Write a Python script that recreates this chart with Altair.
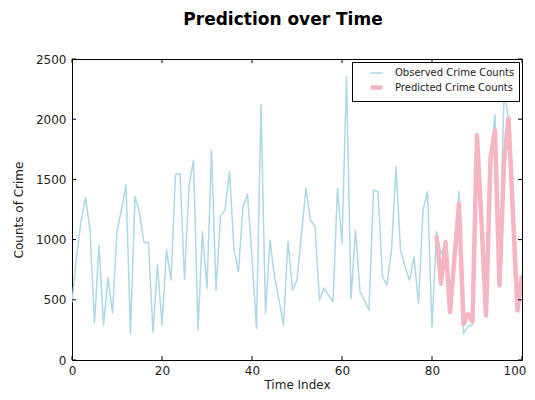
import altair as alt
import pandas as pd

observed = [480, 850, 1150, 1350, 1080, 305, 955, 290, 685, 390,
            1065, 1250, 1455, 220, 1360, 1220, 975, 975, 230, 790,
            290, 915, 665, 1540, 1550, 670, 1440, 1660, 250, 1066,
            594, 1745, 580, 1199, 1246, 1565, 913, 738, 1273, 1379,
            850, 261, 2120, 386, 996, 691, 497, 289, 982, 580,
            663, 1052, 1426, 1163, 1107, 497, 597, 540, 483, 1426,
            968, 2355, 511, 1080, 566, 497, 413, 1412, 1398, 691,
            622, 913, 1607, 913, 774, 663, 857, 469, 1246, 1398,
            275, 1066, 880, 980, 400, 850, 1400, 220, 280, 290,
            1870, 1150, 370, 1670, 2040, 620, 2230, 2000, 1200, 411,
            702]
pred_start = 81
predicted = [1035, 633, 980, 397, 850, 1298, 300, 380, 320, 1867,
             1150, 369, 1673, 1909, 619, 1645, 2006, 1200, 411, 702]

x_ticks = [0, 20, 40, 60, 80, 100]
y_ticks = [0, 500, 1000, 1500, 2000, 2500]
series_names = ["Observed Crime Counts", "Predicted Crime Counts"]

rows = [{"t": i, "v": v, "s": series_names[0]} for i, v in enumerate(observed)]
rows += [{"t": pred_start + i, "v": v, "s": series_names[1]} for i, v in enumerate(predicted)]
df = pd.DataFrame(rows)

W, H = 450, 301
FONT = "DejaVu Sans"

xs = alt.Scale(domain=[0, 100], nice=False, zero=False)
ys = alt.Scale(domain=[0, 2500], nice=False)

legend = alt.Legend(title=None, orient="top-right", offset=3,
                    symbolType="stroke", labelFont=FONT, labelFontSize=10,
                    labelColor="#222", strokeColor="black", fillColor="white",
                    padding=4, symbolSize=144, symbolOffset=12, rowPadding=0,
                    labelLimit=300, labelOffset=10)

lines = alt.Chart(df).mark_line(clip=True, strokeJoin="round").encode(
    x=alt.X("t:Q", scale=xs, title="Time Index",
            axis=alt.Axis(values=x_ticks, ticks=False, domain=False, grid=False,
                          labelPadding=5, labelFontSize=12, labelFont=FONT,
                          labelAlign={"condition": {"test": "datum.value == 100", "value": "right"},
                                      "value": "center"},
                          labelOffset={"condition": {"test": "datum.value == 100", "value": 4},
                                       "value": 0},
                          labelColor="#222", titleFont=FONT, titleFontSize=12,
                          titleFontWeight="normal", titleColor="#222", titlePadding=3)),
    y=alt.Y("v:Q", scale=ys, title="Counts of Crime",
            axis=alt.Axis(values=y_ticks, ticks=False, domain=False, grid=False, format="d",
                          labelPadding=6, labelFontSize=12, labelFont=FONT,
                          labelColor="#222", titleFont=FONT, titleFontSize=12,
                          titleFontWeight="normal", titleColor="#222", titlePadding=10)),
    color=alt.Color("s:N", scale=alt.Scale(domain=series_names, range=["#add8e6", "#f5b5c3"]),
                    legend=legend),
    strokeWidth=alt.StrokeWidth("s:N", scale=alt.Scale(domain=series_names, range=[1.5, 4.5]),
                                legend=legend),
    order=alt.Order("t:Q"),
)

xt = pd.DataFrame({"t": x_ticks})
yt = pd.DataFrame({"v": y_ticks})
tick_style = dict(color="black", strokeWidth=1)
xb = alt.Chart(xt).mark_rule(**tick_style).encode(x=alt.X("t:Q", scale=xs), y=alt.value(H), y2=alt.value(H - 4))
xtop = alt.Chart(xt).mark_rule(**tick_style).encode(x=alt.X("t:Q", scale=xs), y=alt.value(0), y2=alt.value(4))
yl = alt.Chart(yt).mark_rule(**tick_style).encode(y=alt.Y("v:Q", scale=ys), x=alt.value(0), x2=alt.value(4))
yr = alt.Chart(yt).mark_rule(**tick_style).encode(y=alt.Y("v:Q", scale=ys), x=alt.value(W), x2=alt.value(W - 4))

chart = alt.layer(lines, xb, xtop, yl, yr).properties(
    width=W, height=H,
    title=alt.TitleParams("Prediction over Time", font=FONT, fontSize=17, fontWeight="bold",
                          color="black", anchor="middle", dx=-14, offset=24),
    autosize=alt.AutoSizeParams(type="none"),
    padding={"left": 64, "top": 51, "right": 5, "bottom": 32},
).configure_view(stroke="black", strokeWidth=1)

chart.save("out.html", embed_options={"renderer": "svg", "actions": False})
